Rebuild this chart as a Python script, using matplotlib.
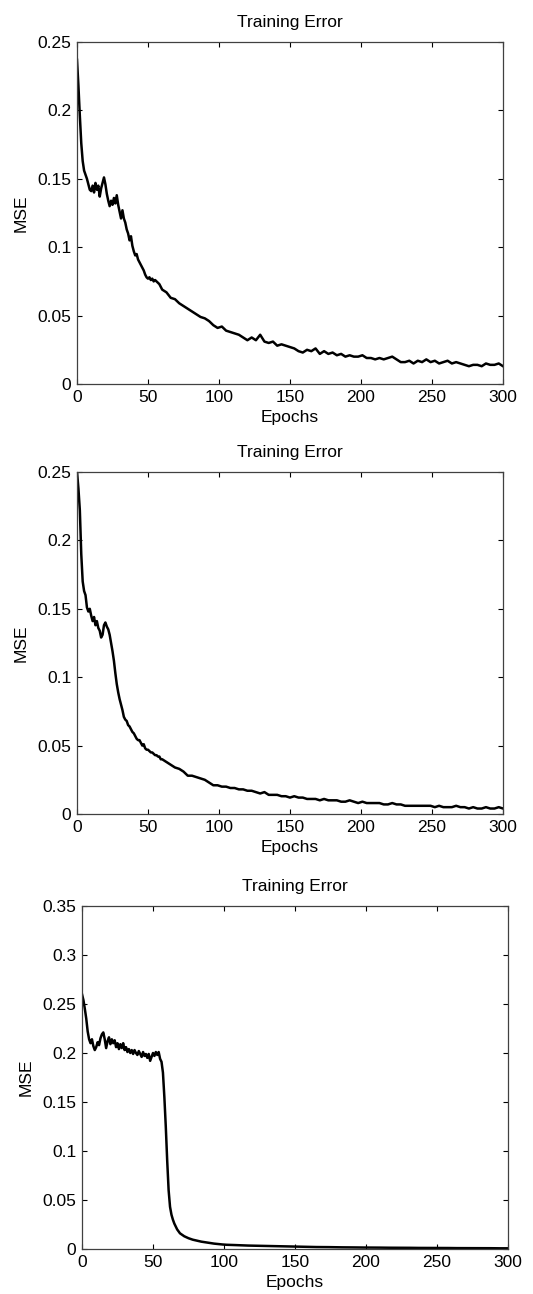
import numpy as np
import matplotlib
matplotlib.use("Agg")
import matplotlib.pyplot as plt

plt.rcParams['font.family'] = ['Liberation Sans', 'DejaVu Sans']

# ---------------- data ----------------
title_text = "Training Error"
x_label = "Epochs"
y_label = "MSE"
x_ticks = [0, 50, 100, 150, 200, 250, 300]

# Series 1
s1_epochs_early = np.arange(0, 61)
s1_early = [0.237, 0.218, 0.196, 0.176, 0.163, 0.156, 0.153, 0.150, 0.146, 0.142,
            0.141, 0.145, 0.140, 0.147, 0.142, 0.145, 0.137, 0.143, 0.147, 0.151,
            0.146, 0.139, 0.134, 0.130, 0.134, 0.131, 0.136, 0.132, 0.138, 0.131,
            0.126, 0.121, 0.127, 0.121, 0.118, 0.113, 0.110, 0.105, 0.108, 0.101,
            0.097, 0.094, 0.095, 0.091, 0.089, 0.087, 0.085, 0.083, 0.080, 0.078,
            0.077, 0.078, 0.076, 0.077, 0.075, 0.076, 0.075, 0.074, 0.073, 0.071,
            0.069]
s1_epochs_late = np.arange(63, 301, 3)
s1_late = [0.067, 0.063, 0.062, 0.059, 0.057, 0.055, 0.053, 0.051, 0.049, 0.048,
           0.046, 0.043, 0.041, 0.042, 0.039, 0.038, 0.037, 0.036, 0.034, 0.032,
           0.034, 0.032, 0.036, 0.031, 0.030, 0.031, 0.028, 0.029, 0.028, 0.027,
           0.026, 0.024, 0.023, 0.025, 0.024, 0.026, 0.022, 0.024, 0.022, 0.023,
           0.021, 0.022, 0.020, 0.021, 0.020, 0.020, 0.021, 0.019, 0.019, 0.018,
           0.019, 0.018, 0.019, 0.020, 0.018, 0.016, 0.016, 0.017, 0.015, 0.017,
           0.016, 0.018, 0.016, 0.017, 0.015, 0.016, 0.017, 0.015, 0.016, 0.015,
           0.014, 0.013, 0.014, 0.014, 0.013, 0.015, 0.014, 0.014, 0.015, 0.013]

# Series 2
s2_epochs_early = np.arange(0, 61)
s2_early = [0.250, 0.238, 0.222, 0.190, 0.170, 0.163, 0.160, 0.151, 0.148, 0.150,
            0.145, 0.141, 0.144, 0.138, 0.141, 0.136, 0.134, 0.129, 0.131, 0.138,
            0.140, 0.137, 0.135, 0.131, 0.125, 0.119, 0.112, 0.103, 0.095, 0.089,
            0.084, 0.080, 0.076, 0.071, 0.069, 0.068, 0.065, 0.064, 0.062, 0.060,
            0.059, 0.057, 0.055, 0.054, 0.054, 0.052, 0.050, 0.051, 0.048, 0.047,
            0.047, 0.046, 0.045, 0.045, 0.044, 0.043, 0.043, 0.042, 0.042, 0.040,
            0.040]
s2_epochs_late = np.arange(63, 301, 3)
s2_late = [0.038, 0.036, 0.034, 0.033, 0.031, 0.028, 0.028, 0.027, 0.026, 0.025,
           0.023, 0.021, 0.021, 0.020, 0.020, 0.019, 0.019, 0.018, 0.018, 0.017,
           0.017, 0.016, 0.015, 0.016, 0.014, 0.014, 0.014, 0.013, 0.013, 0.012,
           0.013, 0.012, 0.012, 0.011, 0.011, 0.011, 0.010, 0.011, 0.010, 0.010,
           0.010, 0.009, 0.009, 0.010, 0.009, 0.008, 0.009, 0.008, 0.008, 0.008,
           0.008, 0.007, 0.007, 0.008, 0.007, 0.007, 0.006, 0.006, 0.006, 0.006,
           0.006, 0.006, 0.006, 0.005, 0.006, 0.005, 0.005, 0.005, 0.006, 0.005,
           0.005, 0.004, 0.005, 0.004, 0.004, 0.005, 0.004, 0.004, 0.005, 0.004]

# Series 3
s3_epochs_early = np.arange(0, 71)
s3_early = [0.260, 0.254, 0.245, 0.235, 0.222, 0.214, 0.210, 0.214, 0.207, 0.203,
            0.206, 0.211, 0.208, 0.215, 0.219, 0.221, 0.214, 0.205, 0.212, 0.216,
            0.209, 0.214, 0.210, 0.213, 0.206, 0.210, 0.204, 0.209, 0.205, 0.210,
            0.203, 0.206, 0.201, 0.204, 0.200, 0.203, 0.199, 0.203, 0.200, 0.198,
            0.202, 0.199, 0.196, 0.201, 0.197, 0.199, 0.195, 0.199, 0.192, 0.196,
            0.200, 0.197, 0.201, 0.198, 0.201, 0.194, 0.191, 0.180, 0.155, 0.125,
            0.090, 0.060, 0.043, 0.035, 0.030, 0.026, 0.023, 0.020, 0.018, 0.016,
            0.015]
s3_epochs_late = np.arange(72, 301, 3)
s3_late = [0.013, 0.011, 0.0095, 0.0085, 0.0075, 0.0068, 0.006, 0.0055, 0.005, 0.0046,
           0.0043, 0.0042, 0.004, 0.0038, 0.0037, 0.0035, 0.0034, 0.0033, 0.0032, 0.0031,
           0.003, 0.0028, 0.0027, 0.0026, 0.0025, 0.0024, 0.0024, 0.0023, 0.0022, 0.0022,
           0.0021, 0.002, 0.002, 0.0019, 0.0019, 0.0018, 0.0018, 0.0017, 0.0017, 0.0016,
           0.0016, 0.0015, 0.0015, 0.0015, 0.0014, 0.0014, 0.0014, 0.0013, 0.0013, 0.0013,
           0.0012, 0.0012, 0.0012, 0.0012, 0.0011, 0.0011, 0.0011, 0.0011, 0.001, 0.001,
           0.001, 0.001, 0.001, 0.0009, 0.0009, 0.0009, 0.0009, 0.0009, 0.0008, 0.0008,
           0.0008, 0.0008, 0.0008, 0.0007, 0.0007, 0.0007, 0.0007]

y1_ticks = [0, 0.05, 0.1, 0.15, 0.2, 0.25]
y1_labels = ['0', '0.05', '0.1', '0.15', '0.2', '0.25']
y3_ticks = [0, 0.05, 0.1, 0.15, 0.2, 0.25, 0.3, 0.35]
y3_labels = ['0', '0.05', '0.1', '0.15', '0.2', '0.25', '0.3', '0.35']

# ---------------- figure ----------------
W, H = 533, 1294
fig = plt.figure(figsize=(W / 100, H / 100), dpi=100)


def rect(left, top, right, bottom):
    return [left / W, 1 - bottom / H, (right - left) / W, (bottom - top) / H]


panels = [
    (rect(77, 42, 503, 384), np.concatenate([s1_epochs_early, s1_epochs_late]),
     np.array(s1_early + s1_late), 0.25, y1_ticks, y1_labels),
    (rect(77, 472, 503, 814), np.concatenate([s2_epochs_early, s2_epochs_late]),
     np.array(s2_early + s2_late), 0.25, y1_ticks, y1_labels),
    (rect(82, 906, 508, 1249), np.concatenate([s3_epochs_early, s3_epochs_late]),
     np.array(s3_early + s3_late), 0.35, y3_ticks, y3_labels),
]

fs = 12.5
for r, x, y, ymax, yt, yl in panels:
    ax = fig.add_axes(r)
    ax.plot(x, y, color='black', linewidth=1.8, solid_joinstyle='round')
    ax.set_xlim(0, 300)
    ax.set_ylim(0, ymax)
    ax.set_xticks(x_ticks)
    ax.set_xticklabels([str(t) for t in x_ticks])
    ax.set_yticks(yt)
    ax.set_yticklabels(yl)
    ax.tick_params(direction='in', length=3.5, width=0.8, top=True, right=True,
                   labelsize=fs, pad=4, colors='black')
    for s in ax.spines.values():
        s.set_color('#404040')
        s.set_linewidth(0.9)
    ax.set_title(title_text, fontsize=fs, pad=11)
    ax.set_xlabel(x_label, fontsize=fs, labelpad=4)
    ax.set_ylabel(y_label, fontsize=fs, labelpad=6)

fig.savefig("out.png", dpi=100)
